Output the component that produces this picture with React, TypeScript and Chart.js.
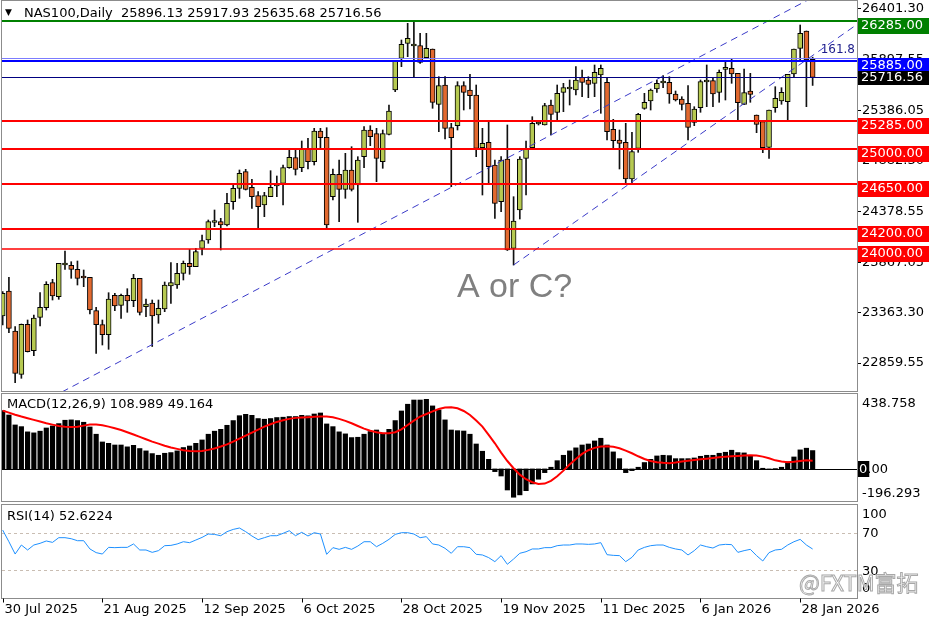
import React, { useEffect, useRef } from "react";
import { Chart, registerables } from "chart.js";
Chart.register(...registerables);

const FONT = '"DejaVu Sans", sans-serif';

// ---------- DATA ----------
const opens = [23330,23580,23180,22747,23247,22983,23317,23413,23663,23523,
 23840,23837,23797,23715,23717,23383,23243,23143,23537,23437,
 23537,23483,23707,23423,23460,23340,23400,23630,23640,23757,
 23857,23823,24007,24090,24265,24273,24240,24473,24607,24773,
 24617,24533,24440,24523,24630,24657,24813,24913,24813,25007,
 24873,25180,25117,24523,24747,24597,24790,24640,24923,25190,
 25153,24873,25147,25590,25907,26057,26030,26033,25913,26000,
 25447,25640,25213,25233,25633,25590,25540,25013,25067,24840,
 24473,24900,24007,24390,24907,25013,25250,25240,25440,25367,
 25567,25600,25590,25717,25690,25657,25740,25667,25197,25090,
 25067,24700,25007,25407,25480,25600,25660,25667,25550,25500,
 25457,25267,25413,25670,25683,25567,25797,25807,25757,25447,
 25580,25340,25273,25017,25413,25480,25473,25750,26007,26180,
 25896.13];
const highs = [23575,23717,23223,23250,23290,23340,23563,23673,23697,23857,
 23980,23873,23880,23790,23717,23417,23290,23563,23557,23550,
 23603,23747,23707,23500,23490,23490,23670,23863,23857,23880,
 23997,24007,24140,24290,24390,24307,24557,24640,24790,24797,
 24697,24573,24567,24783,24730,24840,24990,24990,25080,25107,
 25207,25207,25213,24800,24890,24957,25023,24923,25223,25233,
 25207,25190,25440,25880,26090,26257,26273,26157,26157,26000,
 25723,25723,25257,25673,25673,25747,25640,25207,25273,24890,
 24923,25240,24523,24923,25080,25323,25267,25457,25490,25640,
 25657,25690,25823,25790,25723,25840,25840,25707,25297,25190,
 25257,25167,25357,25557,25600,25690,25733,25723,25580,25523,
 25633,25423,25690,25840,25707,25790,25873,25907,25757,25800,
 25757,25340,25273,25390,25623,25613,25747,26000,26240,26180,
 25917.93];
const lows = [23240,23163,22663,22707,22970,22933,23230,23390,23490,23497,
 23797,23707,23640,23623,23350,22957,23040,22997,23383,23307,
 23367,23423,23340,23323,23025,23257,23373,23457,23607,23690,
 23747,23823,23940,24057,24223,23990,24230,24397,24507,24590,
 24407,24207,24323,24523,24523,24440,24807,24740,24773,24800,
 24840,25007,24207,24490,24273,24507,24580,24267,24813,25033,
 24673,24807,25140,25573,25823,25923,25723,25857,25907,25407,
 25173,25100,24623,25190,25390,25400,24923,24540,24657,24307,
 24373,23985,23840,24300,24540,25007,25240,25240,25140,25290,
 25373,25440,25540,25523,25513,25523,25357,25090,25013,24800,
 24657,24657,24967,25397,25390,25567,25613,25457,25480,25390,
 25090,25233,25367,25423,25423,25467,25490,25657,25290,25447,
 25467,25163,24963,24907,25367,25447,25290,25723,25890,25423,
 25635.68];
const closes = [23557,23207,22757,23247,22973,23310,23417,23647,23530,23857,
 23850,23797,23707,23710,23390,23243,23143,23500,23430,23537,
 23480,23707,23367,23450,23330,23407,23640,23663,23757,23857,
 23823,23973,24083,24273,24275,24240,24457,24607,24757,24597,
 24523,24423,24533,24617,24636,24813,24917,24797,25007,24873,
 25180,25113,24240,24747,24597,24790,24597,24890,25190,25123,
 24907,25153,25380,25880,26047,26107,26037,25867,26007,25467,
 25633,25207,25113,25633,25567,25533,25007,25057,24823,24457,
 24890,23990,24280,24900,25007,25257,25260,25433,25347,25557,
 25613,25612,25690,25667,25647,25767,25807,25173,25083,25057,
 24700,24973,25347,25467,25590,25657,25667,25550,25490,25447,
 25217,25400,25673,25677,25550,25767,25803,25750,25463,25563,
 25547,25247,25013,25390,25507,25567,25747,26000,26157,25890,
 25716.56];

const macdHist = [346,320,261,251,220,214,224,243,255,269,
 289,291,287,277,249,206,160,152,142,142,
 131,140,121,107,91,81,93,97,107,127,
 136,152,172,206,224,235,259,287,316,324,
 318,299,295,299,305,307,311,311,318,315,
 326,332,267,251,220,208,186,188,206,222,
 231,212,235,287,344,384,409,409,413,374,
 350,291,231,227,225,206,148,105,57,-16,
 -42,-125,-168,-154,-129,-89,-61,-22,10,49,
 81,107,125,142,148,166,182,142,101,61,
 -22,-10,10,38,57,77,81,79,61,61,
 61,65,75,81,81,93,99,111,97,95,
 79,49,4,-4,2,10,42,71,113,123,
 108.989];
const macdSignal = [346,334,322,311,301,291,281,271,263,255,
 251,249,251,257,263,263,259,251,241,231,
 218,204,190,176,162,150,138,127,119,111,
 107,105,107,113,121,133,146,162,180,198,
 216,233,251,265,279,289,297,303,305,307,
 309,311,311,307,297,285,271,255,239,227,
 218,212,212,218,235,261,287,311,326,342,
 356,364,366,360,344,320,287,251,202,152,
 97,47,4,-34,-61,-79,-89,-87,-71,-44,
 -10,26,59,89,111,125,133,135,131,123,
 109,93,75,59,47,40,36,34,38,44,
 49,53,57,61,65,69,73,75,77,79,
 81,79,73,63,51,44,40,42,47,51,
 49.164];
const rsiValues = [72.8,60.4,47.3,56.9,51.6,56.9,58.7,61.2,59.7,64.7,
 64.7,63.6,61.5,61.5,52.7,48.8,47.3,54.4,54.1,54.4,
 54.4,58.0,51.6,51.6,49.1,50.9,56.2,56.5,58.0,60.4,
 59.4,62.2,65.0,68.6,68.2,66.8,71.1,73.5,75.0,71.1,
 66.5,62.6,64.7,66.8,66.8,69.3,72.1,66.8,70.4,66.5,
 70.0,68.6,47.0,54.1,52.3,54.4,52.3,55.8,60.4,60.4,
 55.1,58.7,62.9,68.2,70.0,70.0,68.6,64.7,65.8,58.0,
 56.9,53.4,48.1,55.1,55.1,54.1,47.0,46.3,43.5,39.2,
 45.6,36.4,42.0,48.1,49.8,52.7,52.7,54.1,54.1,56.2,
 56.9,56.9,58.0,58.0,57.6,58.0,59.4,46.6,45.9,45.6,
 39.2,43.8,51.6,54.4,56.2,56.9,56.9,54.4,52.7,51.6,
 46.3,50.9,56.9,55.1,53.7,56.9,57.6,57.3,49.1,50.9,
 52.3,45.6,39.9,48.8,51.6,52.3,56.9,60.4,62.9,56.9,
 52.6224];

const dateLabels = ["30 Jul 2025","21 Aug 2025","12 Sep 2025","6 Oct 2025","28 Oct 2025","19 Nov 2025","11 Dec 2025","6 Jan 2026","28 Jan 2026"];
const dateLabelBars = [0,16,32,48,64,80,96,112,128];
const priceTicks = [22859.55,23363.30,23867.05,24378.55,24882.30,25386.05,25897.55,26401.30];
const levelPrices = [26285, 25885, 25285, 25000, 24650, 24200, 24000];
const fibPrice = 25907;
const fibText = "161.8";
const fibTextPrice = 25990;
const lastPrice = 25716.56;
const trendUpper = [{ x: 9.5, y: 22570 }, { x: 130, y: 26515 }];
const trendLower = [{ x: 82, y: 23840 }, { x: 137.1, y: 26245 }];
const noteText = "A or C?";
const noteAnchor = { x: 72.9, y: 23610 };
const headerText = "NAS100,Daily  25896.13 25917.93 25635.68 25716.56";
const macdTitle = "MACD(12,26,9) 108.989 49.164";
const rsiTitle = "RSI(14) 52.6224";
const macdMin = -196.293;
const macdMax = 438.758;
const rsiLevels = [70, 30];
const priceMin = 22580;
const priceMax = 26480;
const xMin = -0.11;
const xMax = 137.12;

// styles (kept apart from data)
const levelStyles = [
  { color: "#008000", width: 2 },
  { color: "#0000ff", width: 2 },
  { color: "#ff0000", width: 2 },
  { color: "#ff0000", width: 2 },
  { color: "#ff0000", width: 2 },
  { color: "#ff0000", width: 2 },
  { color: "#ff0000", width: 1.5 },
];
const BULL = "#b6c951";
const BEAR = "#e2692f";

const idx = opens.map((_, i) => i);

function hLine(ctx: CanvasRenderingContext2D, x1: number, x2: number, y: number, w: number, color: string) {
  ctx.strokeStyle = color;
  ctx.lineWidth = w;
  const yy = w % 2 === 1 ? Math.round(y) + 0.5 : Math.round(y);
  ctx.beginPath();
  ctx.moveTo(x1, yy);
  ctx.lineTo(x2, yy);
  ctx.stroke();
}

export default function App() {
  const r1 = useRef<HTMLCanvasElement>(null);
  const r2 = useRef<HTMLCanvasElement>(null);
  const r3 = useRef<HTMLCanvasElement>(null);

  useEffect(() => {
    const charts: Chart[] = [];
    const xScale = { type: "linear", min: xMin, max: xMax, display: false, offset: false } as any;

    const mainPlugin = {
      id: "mainDecor",
      afterDatasetsDraw(chart: any) {
        const { ctx, chartArea: a, scales } = chart;
        const y = scales.y, x = scales.x;
        ctx.save();
        ctx.beginPath();
        ctx.rect(a.left, a.top, a.right - a.left, a.bottom - a.top);
        ctx.clip();
        hLine(ctx, a.left, a.right, y.getPixelForValue(fibPrice), 1, "#7c7cff");
        levelPrices.forEach((p, i) => {
          hLine(ctx, a.left, a.right, y.getPixelForValue(p), levelStyles[i].width, levelStyles[i].color);
        });
        hLine(ctx, a.left, a.right, y.getPixelForValue(lastPrice), 1, "#000080");
        ctx.restore();

        ctx.save();
        ctx.font = '34px "Liberation Sans", Arial, sans-serif';
        ctx.fillStyle = "#808080";
        ctx.textAlign = "left";
        ctx.textBaseline = "middle";
        ctx.fillText(noteText, x.getPixelForValue(noteAnchor.x), y.getPixelForValue(noteAnchor.y));
        ctx.font = "12px " + FONT;
        ctx.fillStyle = "#1c1c8a";
        ctx.textAlign = "right";
        ctx.fillText(fibText, a.right - 2, y.getPixelForValue(fibTextPrice));
        ctx.restore();
      },
      afterDraw(chart: any) {
        const { ctx, chartArea: a, scales } = chart;
        const y = scales.y;
        ctx.save();
        ctx.strokeStyle = "#8c8c8c";
        ctx.lineWidth = 1;
        ctx.strokeRect(a.left - 0.5, a.top - 0.5, a.right - a.left + 1, a.bottom - a.top + 1);
        // header
        ctx.fillStyle = "#000";
        ctx.textBaseline = "middle";
        ctx.textAlign = "left";
        ctx.font = "9px " + FONT;
        ctx.fillText("\u25BC", 5, 13);
        ctx.font = "13px " + FONT;
        ctx.fillText(headerText, 24, 14);
        // level boxes
        levelPrices.forEach((p, i) => {
          const py = Math.round(y.getPixelForValue(p));
          ctx.fillStyle = levelStyles[i].color;
          ctx.fillRect(a.right + 1, py - 3, 71, 16);
          ctx.fillStyle = "#fff";
          ctx.fillText(p.toFixed(2), a.right + 4, py + 5);
        });
        const ly = Math.round(y.getPixelForValue(lastPrice));
        ctx.fillStyle = "#000";
        ctx.fillRect(a.right + 1, ly - 6, 71, 14);
        ctx.fillStyle = "#fff";
        ctx.fillText(lastPrice.toFixed(2), a.right + 4, ly + 1);
        ctx.restore();
      },
    };

    if (r1.current) {
      charts.push(new Chart(r1.current, {
        type: "bar",
        data: {
          datasets: [
            {
              type: "bar",
              data: idx.map((i) => ({ x: i, y: [lows[i], highs[i]] })),
              backgroundColor: "#111",
              barThickness: 1,
              grouped: false,
              order: 3,
            } as any,
            {
              type: "bar",
              data: idx.map((i) => ({ x: i, y: [opens[i], closes[i]] })),
              backgroundColor: idx.map((i) => (closes[i] >= opens[i] ? BULL : BEAR)),
              borderColor: "#000",
              borderWidth: 1,
              borderSkipped: false,
              barThickness: 5,
              minBarLength: 2,
              grouped: false,
              order: 2,
            } as any,
            {
              type: "line",
              data: trendUpper,
              borderColor: "#3a3ac8",
              borderWidth: 1,
              borderDash: [7, 5],
              pointRadius: 0,
              order: 1,
            } as any,
            {
              type: "line",
              data: trendLower,
              borderColor: "#3a3ac8",
              borderWidth: 1,
              borderDash: [7, 5],
              pointRadius: 0,
              order: 1,
            } as any,
          ],
        },
        options: {
          animation: false,
          responsive: false,
          devicePixelRatio: 1,
          layout: { padding: { left: 2, top: 1, bottom: 1, right: 0 } },
          plugins: { legend: { display: false }, tooltip: { enabled: false } },
          scales: {
            x: xScale,
            y: {
              position: "right",
              min: priceMin,
              max: priceMax,
              afterFit: (s: any) => { s.width = 79; s.paddingTop = 0; s.paddingBottom = 0; },
              afterBuildTicks: (s: any) => { s.ticks = priceTicks.map((v) => ({ value: v })); },
              ticks: {
                autoSkip: false,
                padding: 1,
                color: "#000",
                font: { family: FONT, size: 13 },
                callback: (v: any) => Number(v).toFixed(2),
              },
              grid: { drawOnChartArea: false, drawTicks: true, tickLength: 4, color: "#000" },
              border: { display: true, color: "#707070" },
            },
          },
        } as any,
        plugins: [mainPlugin],
      }));
    }

    const macdPlugin = {
      id: "macdDecor",
      beforeDatasetsDraw(chart: any) {
        const { ctx, chartArea: a, scales } = chart;
        ctx.save();
        hLine(ctx, a.left, a.right, scales.y.getPixelForValue(0), 1, "#000");
        ctx.restore();
      },
      afterDraw(chart: any) {
        const { ctx, chartArea: a, scales } = chart;
        ctx.save();
        ctx.strokeStyle = "#8c8c8c";
        ctx.lineWidth = 1;
        ctx.strokeRect(a.left - 0.5, 1.5, a.right - a.left + 1, 108);
        ctx.fillStyle = "#000";
        ctx.textBaseline = "middle";
        ctx.textAlign = "left";
        ctx.font = "13px " + FONT;
        ctx.fillText(macdTitle, 7, 13);
        ctx.fillText(macdMax.toFixed(3), a.right + 5, a.top + 9);
        ctx.fillText(macdMin.toFixed(3), a.right + 5, a.bottom - 8);
        const zy = Math.round(scales.y.getPixelForValue(0));
        const w0 = ctx.measureText("0").width;
        ctx.fillRect(a.right + 1, zy - 8, w0 + 3, 16);
        ctx.fillStyle = "#fff";
        ctx.fillText("0", a.right + 2, zy + 1);
        ctx.fillStyle = "#000";
        ctx.fillText(".00", a.right + 2 + w0, zy + 1);
        ctx.restore();
      },
    };

    if (r2.current) {
      charts.push(new Chart(r2.current, {
        type: "bar",
        data: {
          datasets: [
            {
              type: "line",
              data: idx.map((i) => ({ x: i, y: macdSignal[i] })),
              borderColor: "#ff0000",
              borderWidth: 2,
              pointRadius: 0,
              order: 1,
            } as any,
            {
              type: "bar",
              data: idx.map((i) => ({ x: i, y: macdHist[i] })),
              backgroundColor: "#000",
              barThickness: 4.5,
              grouped: false,
              order: 2,
            } as any,
          ],
        },
        options: {
          animation: false,
          responsive: false,
          devicePixelRatio: 1,
          layout: { padding: { left: 2, top: 3, bottom: 1, right: 79 } },
          plugins: { legend: { display: false }, tooltip: { enabled: false } },
          scales: {
            x: xScale,
            y: { min: macdMin, max: macdMax, display: false },
          },
        } as any,
        plugins: [macdPlugin],
      }));
    }

    const rsiPlugin = {
      id: "rsiDecor",
      beforeDatasetsDraw(chart: any) {
        const { ctx, chartArea: a, scales } = chart;
        ctx.save();
        ctx.setLineDash([3, 3]);
        rsiLevels.forEach((lv) => hLine(ctx, a.left, a.right, scales.y.getPixelForValue(lv), 1, "#c9bdb2"));
        ctx.restore();
      },
      afterDraw(chart: any) {
        const { ctx, chartArea: a, scales } = chart;
        ctx.save();
        ctx.strokeStyle = "#8c8c8c";
        ctx.lineWidth = 1;
        ctx.strokeRect(a.left - 0.5, a.top, a.right - a.left + 1, a.bottom - a.top);
        ctx.fillStyle = "#000";
        ctx.textBaseline = "middle";
        ctx.textAlign = "left";
        ctx.font = "13px " + FONT;
        ctx.fillText(rsiTitle, 7, 14);
        ctx.fillText("100", a.right + 5, a.top + 10.5);
        ctx.fillText("70", a.right + 5, scales.y.getPixelForValue(70) + 0.5);
        ctx.fillText("30", a.right + 5, scales.y.getPixelForValue(30) + 1);
        ctx.fillText("0", a.right + 5, a.bottom - 9.5);
        // x axis labels
        ctx.strokeStyle = "#000";
        dateLabelBars.forEach((b, k) => {
          const px = Math.round(scales.x.getPixelForValue(b)) + 0.5;
          ctx.beginPath();
          ctx.moveTo(px, a.bottom);
          ctx.lineTo(px, a.bottom + 4);
          ctx.stroke();
          ctx.fillText(dateLabels[k], px + 1, 107);
        });
        // watermark
        ctx.font = '22px "Noto Sans CJK SC", sans-serif';
        ctx.fillStyle = "rgba(255,255,255,0.85)";
        ctx.strokeStyle = "#a8a8a8";
        ctx.lineWidth = 1;
        ctx.fillText("@FXTM富拓", 799, 80);
        ctx.strokeText("@FXTM富拓", 799, 80);
        ctx.restore();
      },
    };

    if (r3.current) {
      charts.push(new Chart(r3.current, {
        type: "line",
        data: {
          datasets: [
            {
              data: idx.map((i) => ({ x: i, y: rsiValues[i] })),
              borderColor: "#1e90ff",
              borderWidth: 1,
              pointRadius: 0,
            } as any,
          ],
        },
        options: {
          animation: false,
          responsive: false,
          devicePixelRatio: 1,
          layout: { padding: { left: 2, top: 1.5, bottom: 25.5, right: 79 } },
          plugins: { legend: { display: false }, tooltip: { enabled: false } },
          scales: {
            x: xScale,
            y: { min: 0, max: 100, display: false },
          },
        } as any,
        plugins: [rsiPlugin],
      }));
    }

    return () => charts.forEach((c) => c.destroy());
  }, []);

  return (
    <div style={{ position: "fixed", left: 0, top: 0, width: 936, height: 624, background: "#fff", overflow: "hidden" }}>
      <canvas ref={r1} width={936} height={392} style={{ position: "absolute", left: 0, top: 0, width: 936, height: 392 }} />
      <canvas ref={r2} width={936} height={111} style={{ position: "absolute", left: 0, top: 392, width: 936, height: 111 }} />
      <canvas ref={r3} width={936} height={121} style={{ position: "absolute", left: 0, top: 503, width: 936, height: 121 }} />
    </div>
  );
}
